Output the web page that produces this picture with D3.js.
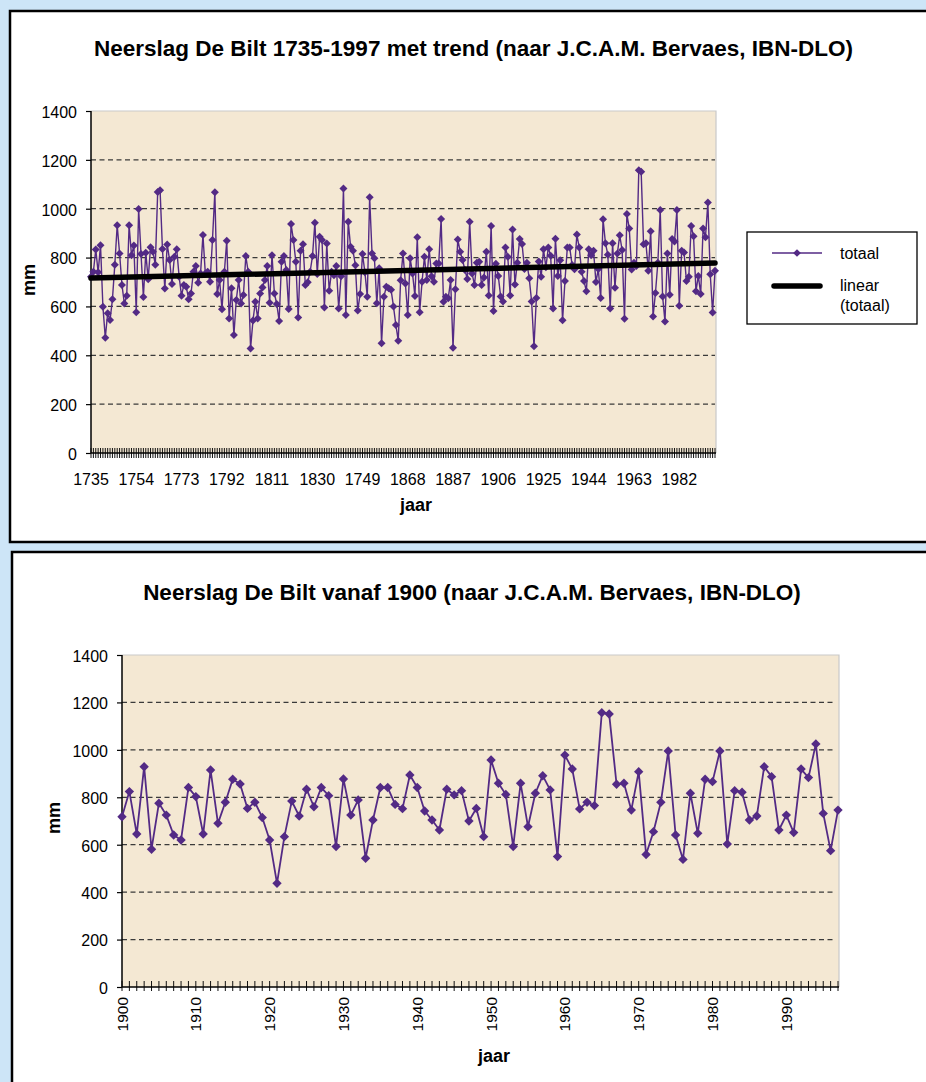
<!DOCTYPE html>
<html>
<head>
<meta charset="utf-8">
<script src="https://cdn.jsdelivr.net/npm/d3@7"></script>
<style>
  html, body { margin: 0; padding: 0; background: #cde5f7; }
  svg { display: block; }
  text { font-family: "Liberation Sans", Arial, Helvetica, sans-serif; fill: #000; }
</style>
</head>
<body>
<svg id="chart" width="926" height="1082"></svg>
<script>
// Jaarlijkse neerslag De Bilt (mm), 1735-1899
const totaal1735 = [
  722, 742, 833, 740, 850, 599, 472, 572, 544, 629,
  771, 932, 817, 688, 612, 644, 932, 810, 849, 576,
  999, 815, 639, 820, 711, 842, 824, 771, 1068, 1076,
  835, 673, 854, 790, 692, 803, 834, 722, 644, 688,
  681, 629, 653, 742, 765, 697, 735, 892, 735, 742,
  701, 872, 1067, 651, 708, 588, 742, 869, 551, 674,
  483, 626, 708, 612, 647, 806, 742, 428, 542, 619,
  551, 653, 678, 708, 765, 615, 810, 653, 610, 540,
  783, 806, 749, 589, 937, 872, 783, 555, 828, 855,
  688, 699, 742, 806, 943, 733, 885, 872, 596, 858,
  664, 742, 728, 765, 592, 724, 1083, 565, 947, 844,
  828, 769, 583, 651, 815, 740, 640, 1047, 817, 797,
  613, 756, 449, 640, 681, 674, 668, 600, 524, 460,
  707, 817, 694, 565, 797, 735, 643, 883, 576, 701,
  803, 708, 834, 724, 701, 776, 776, 958, 619, 640,
  633, 708, 431, 670, 874, 824, 790, 749, 712, 947,
  735, 688, 779, 783, 688
];

// Jaarlijkse neerslag De Bilt (mm), 1900-1997
const totaal1900 = [
  718, 824, 645, 929, 581, 775, 725, 641, 620, 841,
  803, 645, 915, 690, 779, 876, 856, 753, 779, 715,
  620, 437, 634, 784, 721, 834, 760, 841, 807, 592,
  877, 725, 789, 543, 704, 841, 841, 770, 752, 894,
  841, 742, 704, 662, 834, 810, 828, 700, 753, 634,
  957, 859, 812, 592, 859, 676, 817, 891, 831, 550,
  978, 919, 751, 779, 765, 1157, 1151, 855, 859, 746,
  908, 559, 655, 779, 995, 641, 538, 817, 648, 876,
  866, 995, 603, 828, 821, 704, 721, 929, 887, 662,
  725, 651, 919, 883, 1025, 732, 575, 746
];

const eersteJaar = 1735;
const jaarVanaf = 1900;

// As-labels
const yTicks = [0, 200, 400, 600, 800, 1000, 1200, 1400];
const labelsBoven = ["1735", "1754", "1773", "1792", "1811", "1830", "1749",
                     "1868", "1887", "1906", "1925", "1944", "1963", "1982"];
const labelStap = 19;
const labelsOnder = ["1900", "1910", "1920", "1930", "1940", "1950", "1960", "1970", "1980", "1990"];

const titelBoven = "Neerslag De Bilt 1735-1997 met trend (naar J.C.A.M. Bervaes, IBN-DLO)";
const titelOnder = "Neerslag De Bilt vanaf 1900 (naar J.C.A.M. Bervaes, IBN-DLO)";
const legendaTeksten = ["totaal", "linear", "(totaal)"];

const alles = totaal1735.concat(totaal1900);
const reeksAlles = alles.map((v, i) => ({ jaar: eersteJaar + i, v }));
const reeksVanaf = totaal1900.map((v, i) => ({ jaar: jaarVanaf + i, v }));

const PAARS = "#532a85";
const PLOT_BG = "#f4e8d3";
const svg = d3.select("#chart");

function diamond(sel, size) {
  return sel.attr("d", d3.symbol(d3.symbolSquare, size)());
}

function drawPanel(cfg) {
  const g = svg.append("g");

  // panel frame
  g.append("rect")
    .attr("x", cfg.box[0]).attr("y", cfg.box[1])
    .attr("width", cfg.box[2]).attr("height", cfg.box[3])
    .attr("fill", "#fff").attr("stroke", "#000").attr("stroke-width", 2.5);

  g.append("text")
    .attr("x", cfg.titleX).attr("y", cfg.titleY)
    .attr("text-anchor", "middle")
    .attr("font-weight", "bold").attr("font-size", "22.5px")
    .text(cfg.title);

  const data = cfg.data;
  const x = d3.scalePoint()
    .domain(data.map(d => d.jaar))
    .range([cfg.left, cfg.right]);
  const y = d3.scaleLinear().domain([0, 1400]).range([cfg.bottom, cfg.top]);

  // plot area
  g.append("rect")
    .attr("x", cfg.left).attr("y", cfg.top)
    .attr("width", cfg.plotRight - cfg.left).attr("height", cfg.bottom - cfg.top)
    .attr("fill", PLOT_BG);
  g.append("path")
    .attr("d", `M${cfg.left},${cfg.top}H${cfg.plotRight}V${cfg.bottom}`)
    .attr("fill", "none").attr("stroke", "#c9c9c9").attr("stroke-width", 1.2);

  // dashed gridlines
  g.append("g").selectAll("line")
    .data(yTicks.filter(t => t > 0 && t < 1400))
    .join("line")
    .attr("x1", cfg.left).attr("x2", cfg.gridRight)
    .attr("y1", d => y(d)).attr("y2", d => y(d))
    .attr("stroke", "#3a3a3a").attr("stroke-width", 1.2)
    .attr("stroke-dasharray", "5,3.5");

  // y axis
  const ya = g.append("g")
    .attr("transform", `translate(${cfg.left},0)`)
    .call(d3.axisLeft(y).tickValues(yTicks).tickFormat(d3.format("d"))
      .tickSize(5).tickPadding(9));
  ya.select(".domain").remove();
  ya.selectAll(".tick line").attr("stroke", "#000").attr("stroke-width", 1.2);
  ya.selectAll(".tick text")
    .attr("font-size", "16px").attr("font-family", null).attr("fill", "#000")
    .attr("dy", "0.4em");
  g.append("line")
    .attr("x1", cfg.left).attr("x2", cfg.left)
    .attr("y1", cfg.top).attr("y2", cfg.bottom)
    .attr("stroke", "#000").attr("stroke-width", 1.5);

  // x axis with a cross tick for every year
  g.append("g").selectAll("line")
    .data(data)
    .join("line")
    .attr("x1", d => x(d.jaar)).attr("x2", d => x(d.jaar))
    .attr("y1", cfg.bottom - cfg.tickUp).attr("y2", cfg.bottom + cfg.tickDown)
    .attr("stroke", "#111").attr("stroke-width", 1);
  g.append("line")
    .attr("x1", cfg.left).attr("x2", cfg.plotRight)
    .attr("y1", cfg.bottom).attr("y2", cfg.bottom)
    .attr("stroke", "#000").attr("stroke-width", 1.5);

  cfg.xLabels(g, x, y);

  // axis titles
  g.append("text")
    .attr("transform", `translate(${cfg.mmX},${cfg.mmY}) rotate(-90)`)
    .attr("text-anchor", "middle").attr("dy", "0.35em")
    .attr("font-weight", "bold").attr("font-size", "18px")
    .text("mm");
  g.append("text")
    .attr("x", cfg.jaarX).attr("y", cfg.jaarY)
    .attr("text-anchor", "middle")
    .attr("font-weight", "bold").attr("font-size", "18px")
    .text("jaar");

  // series
  const line = d3.line().x(d => x(d.jaar)).y(d => y(d.v));
  g.append("path")
    .datum(data)
    .attr("d", line)
    .attr("fill", "none").attr("stroke", PAARS)
    .attr("stroke-width", cfg.lineW).attr("stroke-linejoin", "round");
  g.append("g").selectAll("path")
    .data(data)
    .join("path")
    .call(diamond, cfg.markerSize)
    .attr("transform", d => `translate(${x(d.jaar)},${y(d.v)}) rotate(45)`)
    .attr("fill", PAARS);

  return { g, x, y };
}

// ---------- upper chart: 1735-1997 with linear trend ----------
const boven = drawPanel({
  box: [10, 11, 940, 531],
  title: titelBoven, titleX: 473.5, titleY: 56,
  data: reeksAlles,
  left: 91, right: 715, plotRight: 716, gridRight: 715,
  top: 111, bottom: 453,
  tickUp: 5, tickDown: 5,
  lineW: 1.4, markerSize: 32,
  mmX: 29, mmY: 280, jaarX: 416, jaarY: 511,
  xLabels: (g, x) => {
    g.append("g").selectAll("text")
      .data(labelsBoven)
      .join("text")
      .attr("x", (d, i) => x(reeksAlles[i * labelStap].jaar))
      .attr("y", 485)
      .attr("text-anchor", "middle").attr("font-size", "16px")
      .text(d => d);
  }
});

// least-squares trend over the full series
{
  const n = reeksAlles.length;
  const xs = d3.range(n);
  const mx = d3.mean(xs), my = d3.mean(alles);
  const b = d3.sum(xs, i => (i - mx) * (alles[i] - my)) / d3.sum(xs, i => (i - mx) * (i - mx));
  const a = my - b * mx;
  const trend = [0, n - 1].map(i => ({ jaar: reeksAlles[i].jaar, v: a + b * i }));
  boven.g.append("path")
    .datum(trend)
    .attr("d", d3.line().x(d => boven.x(d.jaar)).y(d => boven.y(d.v)))
    .attr("stroke", "#000").attr("stroke-width", 5.5)
    .attr("stroke-linecap", "round").attr("fill", "none");
}

// legend
{
  const lg = boven.g.append("g");
  lg.append("rect")
    .attr("x", 747).attr("y", 232).attr("width", 170).attr("height", 92)
    .attr("fill", "#fff").attr("stroke", "#000").attr("stroke-width", 1.3);
  lg.append("line")
    .attr("x1", 772).attr("x2", 822).attr("y1", 253).attr("y2", 253)
    .attr("stroke", PAARS).attr("stroke-width", 1.3);
  lg.append("path")
    .call(diamond, 30)
    .attr("transform", "translate(797,253) rotate(45)")
    .attr("fill", PAARS);
  lg.append("line")
    .attr("x1", 774).attr("x2", 820).attr("y1", 286).attr("y2", 286)
    .attr("stroke", "#000").attr("stroke-width", 5.5).attr("stroke-linecap", "round");
  lg.append("text").attr("x", 840).attr("y", 258.5).attr("font-size", "16px").text(legendaTeksten[0]);
  lg.append("text").attr("x", 840).attr("y", 291).attr("font-size", "16px").text(legendaTeksten[1]);
  lg.append("text").attr("x", 840).attr("y", 311).attr("font-size", "16px").text(legendaTeksten[2]);
}

// ---------- lower chart: 1900-1997 ----------
drawPanel({
  box: [12, 552, 940, 560],
  title: titelOnder, titleX: 472, titleY: 600,
  data: reeksVanaf,
  left: 122, right: 838, plotRight: 839, gridRight: 834,
  top: 655, bottom: 987,
  tickUp: 6, tickDown: 4,
  lineW: 1.8, markerSize: 44,
  mmX: 54, mmY: 818, jaarX: 494, jaarY: 1062,
  xLabels: (g, x) => {
    g.append("g").selectAll("text")
      .data(labelsOnder)
      .join("text")
      .attr("transform", d => `translate(${x(+d)},997) rotate(-90)`)
      .attr("text-anchor", "end").attr("dy", "0.36em")
      .attr("font-size", "15.5px")
      .text(d => d);
  }
});
</script>
</body>
</html>
